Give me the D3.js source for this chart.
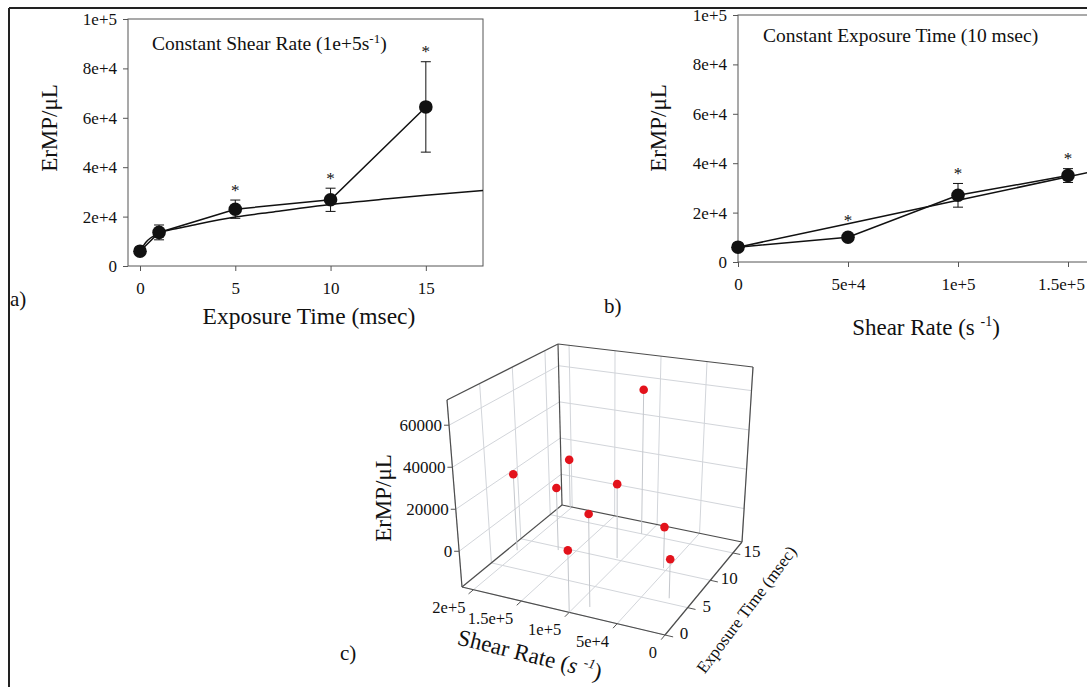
<!DOCTYPE html>
<html>
<head>
<meta charset="utf-8">
<script src="https://cdn.jsdelivr.net/npm/d3@7"></script>
<style>
  body { margin: 0; background: #fff; }
  text { font-family: "Liberation Serif", "Times New Roman", serif; fill: #111; }
</style>
</head>
<body>
<script>
//// DATA
// a) constant shear rate 1e+5 s-1
var expTime = [0, 1, 5, 10, 15],
    ermpA = [6000, 13600, 23000, 26800, 64400],
    errA = [800, 3000, 3700, 4700, 18300],
    starA = [0, 0, 1, 1, 1];
var fitExpA = [0, 0.3, 1, 2, 3, 5, 7, 10, 13, 15, 18],
    fitA = [6000, 9500, 13200, 15300, 16900, 19800, 21900, 24900, 27200, 28600, 30600];

// b) constant exposure time 10 msec
var shearRate = [0, 5e4, 1e5, 1.5e5],
    ermpB = [6000, 10000, 27000, 35000],
    errB = [700, 700, 4800, 2800],
    starB = [0, 1, 1, 1];
var fitShearB = [0, 5e4, 1e5, 1.5e5, 2e5],
    fitB = [6000, 15500, 25000, 34500, 44000];

// c) 3d scatter
var shear3d = [203000, 201000, 167000, 106000, 106000, 87000, 54000, 100000, 24000],
    exp3d = [8.0, 16.8, 9.5, 15, 10.3, 1.6, 10.3, 0, 5.8],
    ermp3d = [21600, 9400, 14500, 58000, 20000, 26300, 3200, 11600, 1400];

// ticks
var yTicks = [0, 2e4, 4e4, 6e4, 8e4, 1e5],
    xTicksA = [0, 5, 10, 15],
    xTicksB = [0, 5e4, 1e5, 1.5e5],
    shearTicks3d = [0, 5e4, 1e5, 1.5e5, 2e5],
    expTicks3d = [0, 5, 10, 15],
    ermpTicks3d = [0, 20000, 40000, 60000];

var W = 1087, H = 687;
var fmt = function(d) { return d === 0 ? "0" : d.toExponential(); };

var svg = d3.select("body").append("svg")
    .attr("width", W)
    .attr("height", H);

//// PANEL A
var xA = d3.scaleLinear().domain([-0.63, 18]).range([128, 483]),
    yA = d3.scaleLinear().domain([0, 1e5]).range([266, 19]);

var gA = svg.append("g");
gA.append("rect")
    .attr("x", 128).attr("y", 19)
    .attr("width", 483 - 128).attr("height", 266 - 19)
    .attr("fill", "none").attr("stroke", "#555");

gA.append("g")
    .attr("transform", "translate(128,0)")
    .call(d3.axisLeft(yA).tickValues(yTicks).tickSize(5).tickPadding(6).tickFormat(fmt))
    .call(axisStyle);
gA.append("g")
    .attr("transform", "translate(0,266)")
    .call(d3.axisBottom(xA).tickValues(xTicksA).tickSize(5).tickPadding(11).tickFormat(d3.format("d")))
    .call(axisStyle);

gA.append("clipPath").attr("id", "clipA")
  .append("rect").attr("x", 128).attr("y", 19).attr("width", 355).attr("height", 247);

gA.append("path")
    .datum(d3.zip(fitExpA, fitA))
    .attr("clip-path", "url(#clipA)")
    .attr("fill", "none").attr("stroke", "#111").attr("stroke-width", 1.5)
    .attr("d", d3.line().x(function(d) { return xA(d[0]); }).y(function(d) { return yA(d[1]); })
        .curve(d3.curveMonotoneX));

drawSeries(gA, d3.zip(expTime, ermpA, errA, starA), xA, yA);

var ta = gA.append("text").attr("x", 152).attr("y", 50).style("font-size", "19.5px");
ta.append("tspan").text("Constant Shear Rate (1e+5s");
ta.append("tspan").attr("dy", -7).style("font-size", "13px").text("-1");
ta.append("tspan").attr("dy", 7).text(")");

gA.append("text")
    .attr("transform", "translate(57,128) rotate(-90)")
    .attr("text-anchor", "middle").style("font-size", "23px")
    .text("ErMP/\u03bcL");
gA.append("text")
    .attr("x", 309).attr("y", 324)
    .attr("text-anchor", "middle").style("font-size", "23.5px")
    .text("Exposure Time (msec)");
gA.append("text").attr("x", 10).attr("y", 306).style("font-size", "21px").text("a)");

//// PANEL B
var xB = d3.scaleLinear().domain([0, 2e5]).range([738, 1178]),
    yB = d3.scaleLinear().domain([0, 1e5]).range([262, 15]);

var gB = svg.append("g");
gB.append("rect")
    .attr("x", 738).attr("y", 15)
    .attr("width", 440).attr("height", 247)
    .attr("fill", "none").attr("stroke", "#555");
gB.append("g")
    .attr("transform", "translate(738,0)")
    .call(d3.axisLeft(yB).tickValues(yTicks).tickSize(5).tickPadding(6).tickFormat(fmt))
    .call(axisStyle);
gB.append("g")
    .attr("transform", "translate(0,262)")
    .call(d3.axisBottom(xB).tickValues(xTicksB).tickSize(5).tickPadding(11).tickFormat(fmt))
    .call(axisStyle)
    .call(function(g) {
      // last label sits against the page edge, as in the figure
      g.selectAll(".tick text").filter(function(d) { return d === 1.5e5; }).attr("dx", -7);
    });

gB.append("path")
    .datum(d3.zip(fitShearB, fitB))
    .attr("fill", "none").attr("stroke", "#111").attr("stroke-width", 1.5)
    .attr("d", d3.line().x(function(d) { return xB(d[0]); }).y(function(d) { return yB(d[1]); }));

drawSeries(gB, d3.zip(shearRate, ermpB, errB, starB), xB, yB);

gB.append("text").attr("x", 763).attr("y", 42).style("font-size", "19.5px")
    .text("Constant Exposure Time (10 msec)");
gB.append("text")
    .attr("transform", "translate(666,128) rotate(-90)")
    .attr("text-anchor", "middle").style("font-size", "23px")
    .text("ErMP/\u03bcL");
var lb = gB.append("text")
    .attr("x", 926).attr("y", 335)
    .attr("text-anchor", "middle").style("font-size", "23px");
lb.append("tspan").text("Shear Rate (s ");
lb.append("tspan").attr("dy", -9).style("font-size", "14px").text("-1");
lb.append("tspan").attr("dy", 9).text(")");
gB.append("text").attr("x", 604).attr("y", 313).style("font-size", "21px").text("b)");

//// PANEL C (3d scatter, box corners in screen space)
var box = {
  F: [665, 635], L: [462, 587], R: [742, 542], B: [562, 505],
  Ft: [670, 437], Lt: [447, 400], Rt: [753, 367], Bt: [558, 344]
};
var sS = d3.scaleLinear().domain([0, 212000]).range([0, 1]),
    sE = d3.scaleLinear().domain([0, 17]).range([0, 1]),
    sZ = d3.scaleLinear().domain([-17000, 72000]).range([0, 1]);

function project(u, v, w) {
  function bil(a, b, c, d) {
    return [0, 1].map(function(i) {
      return (1-u)*(1-v)*a[i] + u*(1-v)*b[i] + (1-u)*v*c[i] + u*v*d[i];
    });
  }
  var p0 = bil(box.F, box.L, box.R, box.B),
      p1 = bil(box.Ft, box.Lt, box.Rt, box.Bt);
  return [p0[0] + (p1[0] - p0[0]) * w, p0[1] + (p1[1] - p0[1]) * w];
}

var gC = svg.append("g");
function seg(g, a, b, color, width) {
  var p = project.apply(null, a), q = project.apply(null, b);
  g.append("line")
      .attr("x1", p[0]).attr("y1", p[1]).attr("x2", q[0]).attr("y2", q[1])
      .attr("stroke", color).attr("stroke-width", width);
}

var grid = gC.append("g"), gridCol = "#d2d5da";
// floor
shearTicks3d.forEach(function(t) { seg(grid, [sS(t), 0, 0], [sS(t), 1, 0], gridCol, 1); });
expTicks3d.forEach(function(t) { seg(grid, [0, sE(t), 0], [1, sE(t), 0], gridCol, 1); });
// left wall (max shear)
expTicks3d.forEach(function(t) { seg(grid, [1, sE(t), 0], [1, sE(t), 1], gridCol, 1); });
ermpTicks3d.forEach(function(t) { seg(grid, [1, 0, sZ(t)], [1, 1, sZ(t)], gridCol, 1); });
// right wall (max exposure)
shearTicks3d.forEach(function(t) { seg(grid, [sS(t), 1, 0], [sS(t), 1, 1], gridCol, 1); });
ermpTicks3d.forEach(function(t) { seg(grid, [0, 1, sZ(t)], [1, 1, sZ(t)], gridCol, 1); });

// box edges
var edges = [
  [[1,0,0],[1,0,1]], [[1,0,1],[1,1,1]], [[1,1,1],[0,1,1]], [[0,1,1],[0,1,0]],
  [[1,1,0],[1,1,1]], [[0,0,0],[1,0,0]], [[0,0,0],[0,1,0]], [[1,0,0],[1,1,0]], [[1,1,0],[0,1,0]]
];
edges.forEach(function(e) { seg(gC, e[0], e[1], "#4d4d4d", 1.2); });

// ticks and labels
ermpTicks3d.forEach(function(t) {
  var p = project(1, 0, sZ(t));
  gC.append("line").attr("x1", p[0] - 5).attr("x2", p[0]).attr("y1", p[1]).attr("y2", p[1]).attr("stroke", "#555");
  gC.append("text").attr("x", p[0] - 7).attr("y", p[1] + 6)
      .attr("text-anchor", "end").style("font-size", "17px").text(t);
});
shearTicks3d.forEach(function(t) {
  var p = project(sS(t), 0, 0), q = project(sS(t), -0.05, 0);
  gC.append("line").attr("x1", p[0]).attr("y1", p[1]).attr("x2", q[0]).attr("y2", q[1]).attr("stroke", "#555");
  gC.append("text").attr("x", p[0] - 8).attr("y", p[1] + 23)
      .attr("text-anchor", "end").style("font-size", "16.5px").text(fmt(t));
});
expTicks3d.forEach(function(t) {
  var p = project(0, sE(t), 0), q = project(-0.04, sE(t), 0);
  gC.append("line").attr("x1", p[0]).attr("y1", p[1]).attr("x2", q[0]).attr("y2", q[1]).attr("stroke", "#555");
  gC.append("text").attr("x", p[0] + 19).attr("y", p[1] + 4)
      .attr("text-anchor", "middle").style("font-size", "17px").text(t);
});

// drop lines and points
var pts = d3.zip(shear3d, exp3d, ermp3d);
pts.forEach(function(d) {
  seg(gC, [sS(d[0]), sE(d[1]), 0], [sS(d[0]), sE(d[1]), sZ(d[2])], "#c4c7cc", 1);
});
gC.selectAll(".pt").data(pts).enter().append("circle")
    .attr("class", "pt")
    .attr("cx", function(d) { return project(sS(d[0]), sE(d[1]), sZ(d[2]))[0]; })
    .attr("cy", function(d) { return project(sS(d[0]), sE(d[1]), sZ(d[2]))[1]; })
    .attr("r", 4.3)
    .attr("fill", "#e3121b");

gC.append("text")
    .attr("transform", "translate(391,498) rotate(-90)")
    .attr("text-anchor", "middle").style("font-size", "23px")
    .text("ErMP/\u03bcL");
var lc = gC.append("text")
    .attr("transform", "translate(528,662) rotate(14)")
    .attr("text-anchor", "middle").style("font-size", "23px");
lc.append("tspan").text("Shear Rate (");
lc.append("tspan").style("font-style", "italic").text("s ");
lc.append("tspan").attr("dy", -9).style("font-size", "14px").style("font-style", "italic").text("-1");
lc.append("tspan").attr("dy", 9).text(")");
gC.append("text")
    .attr("transform", "translate(751,613) rotate(-53)")
    .attr("text-anchor", "middle").style("font-size", "17px")
    .text("Exposure Time (msec)");
gC.append("text").attr("x", 340).attr("y", 660).style("font-size", "21px").text("c)");

// outer border
svg.append("line").attr("x1", 9).attr("y1", 8).attr("x2", W).attr("y2", 8)
    .attr("stroke", "#222").attr("stroke-width", 2);
svg.append("line").attr("x1", 9).attr("y1", 8).attr("x2", 9).attr("y2", H)
    .attr("stroke", "#222").attr("stroke-width", 2);

//// HELPERS
function axisStyle(g) {
  g.attr("font-family", null).attr("font-size", null);
  g.select(".domain").remove();
  g.selectAll(".tick line").attr("stroke", "#555");
  g.selectAll(".tick text").style("font-size", "17px")
      .style("font-family", "'Liberation Serif', 'Times New Roman', serif").attr("fill", "#111");
}

function drawSeries(g, rows, x, y) {
  g.append("path")
      .datum(rows)
      .attr("fill", "none").attr("stroke", "#111").attr("stroke-width", 1.5)
      .attr("d", d3.line().x(function(d) { return x(d[0]); }).y(function(d) { return y(d[1]); }));
  rows.forEach(function(d) {
    var cx = x(d[0]), top = y(d[1] + d[2]), bot = y(d[1] - d[2]);
    g.append("line").attr("x1", cx).attr("x2", cx).attr("y1", top).attr("y2", bot).attr("stroke", "#111");
    g.append("line").attr("x1", cx - 5).attr("x2", cx + 5).attr("y1", top).attr("y2", top).attr("stroke", "#111");
    g.append("line").attr("x1", cx - 5).attr("x2", cx + 5).attr("y1", bot).attr("y2", bot).attr("stroke", "#111");
    if (d[3]) {
      // star sits just above the error bar or the marker, whichever is higher
      var above = Math.min(top, y(d[1]) - 7);
      g.append("text").attr("x", cx).attr("y", above - 4.5)
          .attr("text-anchor", "middle").style("font-size", "17px").text("*");
    }
  });
  g.selectAll(null).data(rows).enter().append("circle")
      .attr("cx", function(d) { return x(d[0]); })
      .attr("cy", function(d) { return y(d[1]); })
      .attr("r", 6.8).attr("fill", "#111");
}
</script>
</body>
</html>
